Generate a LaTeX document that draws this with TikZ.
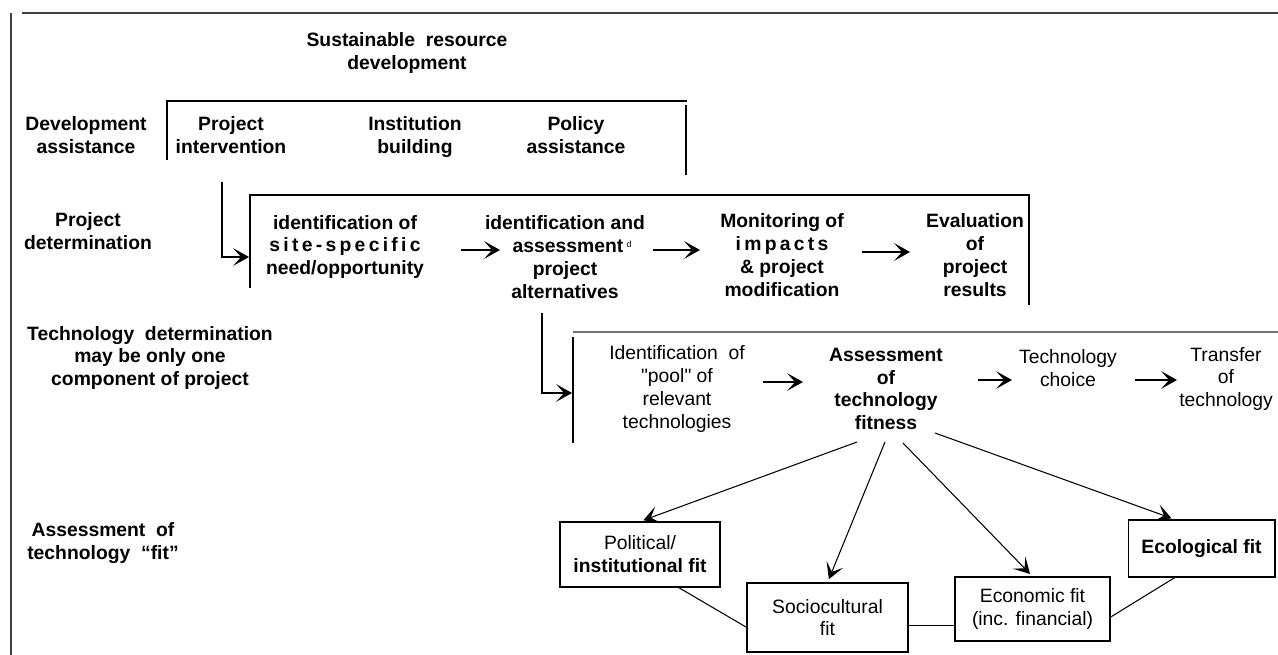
\documentclass[tikz,border=0pt]{standalone}
\usepackage{fontspec}
\setmainfont{Liberation Sans}
\usetikzlibrary{arrows.meta,calc}

\begin{document}
\begin{tikzpicture}[x=0.02cm,y=-0.02cm,
    every node/.style={align=center,inner sep=0pt,font=\fontsize{11}{13}\selectfont\bfseries},
    plain/.style={font=\fontsize{11}{13}\selectfont},
    fitbox/.style={draw,line width=0.6pt,inner sep=2pt},
    >={Stealth[length=9pt,width=10pt,inset=4.5pt]},
    line width=0.6pt]
    \useasboundingbox (0,0) rectangle (1278,655);

    % frame
    \begin{scope}[line width=0.9pt,black!75]
        \draw (11,655) -- (11,13);
        \draw (22,13) -- (1278,13);
    \end{scope}

    \node (SRD) at (407,53) {Sustainable\ \ resource\\development};

    % development assistance
    \node (DA) at (86,135) {Development\\assistance};
    \node (PI) at (231,135) {Project\\intervention};
    \node (IB) at (415,137) {Institution\\building};
    \node (PA) at (576,135) {Policy\\assistance};
    \draw (167,160) -- (167,101) -- (687,101);
    \draw (686,105) -- (686,175);

    % project determination
    \node (PD) at (88,231) {Project\\determination};
    \draw (250,288) -- (250,195) -- (1029,195) -- (1029,305);
    \node (SSN) at (345,247) {identification of\\{\addfontfeatures{LetterSpace=17}site-specific}\\need/opportunity};
    \node (IAP) at (565,257) {identification and\\\hspace*{8pt}assessment\,\raisebox{3pt}{\fontsize{5}{5}\selectfont\mdseries d}\\project\\alternatives};
    \node (MIP) at (782,255) {Monitoring of\\{\addfontfeatures{LetterSpace=17}impacts}\\\&~project\\modification};
    \node (EPR) at (975,255) {Evaluation\\of\\project\\results};

    \coordinate (A1) at (461,250);
    \coordinate (B1) at (500,250);
    \coordinate (A2) at (653,250);
    \coordinate (B2) at (700,250);
    \coordinate (A3) at (862,252);
    \coordinate (B3) at (910,252);
    \coordinate (PIdown) at (222,182);
    \coordinate (PDin) at (249,257);

    % technology determination
    \node (TD) at (150,358) {Technology\ \ determination\\may be only one\\component of project};
    \draw[black!55,line width=1pt] (573,332) -- (1278,332);
    \draw (573,337) -- (573,443);
    \node[plain] (POOL) at (677,389) {Identification\ \ of\\\textquotedbl pool\textquotedbl\ of\\relevant\\technologies};
    \node (ATF) at (886,389) {Assessment\\of\\technology\\fitness};
    \node[plain] (TC) at (1068,368) {Technology\\choice};
    \node[plain] (TT) at (1226,379) {Transfer\\of\\technology};

    \coordinate (A4) at (763,382);
    \coordinate (B4) at (803,382);
    \coordinate (A5) at (978,380);
    \coordinate (B5) at (1012,380);
    \coordinate (A6) at (1135,380);
    \coordinate (B6) at (1177,380);
    \coordinate (IAPdown) at (542,313);
    \coordinate (TDin) at (572,393);

    \begin{scope}[->,line width=0.7pt]
        \draw (A1) -- (B1);
        \draw (A2) -- (B2);
        \draw (A3) -- (B3);
        \draw (A4) -- (B4);
        \draw (A5) -- (B5);
        \draw (A6) -- (B6);
        \draw (PIdown) |- (PDin);
        \draw (IAPdown) |- (TDin);
    \end{scope}

    % technology fit
    \node (AF) at (103,543) {Assessment\ \ of\\technology\ \ ``fit''};
    \node[fitbox,plain,minimum width=3.2cm,minimum height=1.3cm] (POL) at (640,554.5) {Political/\\\textbf{institutional fit}};
    \node[fitbox,plain,minimum width=3.22cm,minimum height=1.38cm] (SOC) at (827.5,617.5) {Sociocultural\\fit};
    \node[fitbox,plain,minimum width=3.1cm,minimum height=1.28cm] (ECO) at (1032.5,609) {Economic fit\\(inc. financial)};
    \node[fitbox,minimum width=2.94cm,minimum height=1.14cm] (ECL) at (1201.5,548.5) {Ecological fit};

    \coordinate (F1) at (857,442);
    \coordinate (F2) at (885,442);
    \coordinate (F3) at (903,443);
    \coordinate (F4) at (935,433);

    \begin{scope}[->,shorten >=2pt]
        \draw (F1) -- (POL.north);
        \draw (F2) -- (SOC.north);
        \draw (F3) -- (ECO.north);
        \draw (F4) -- ($(ECL.north west)!0.32!(ECL.north east)$);
    \end{scope}

    \draw ($(POL.south west)!0.74!(POL.south east)$) -- ($(SOC.north west)!0.64!(SOC.south west)$);
    \draw ($(SOC.north east)!0.61!(SOC.south east)$) coordinate (S1) -- (S1 -| ECO.west);
    \draw ($(ECO.north east)!0.625!(ECO.south east)$) -- ($(ECL.south west)!0.32!(ECL.south east)$);
\end{tikzpicture}
\end{document}
